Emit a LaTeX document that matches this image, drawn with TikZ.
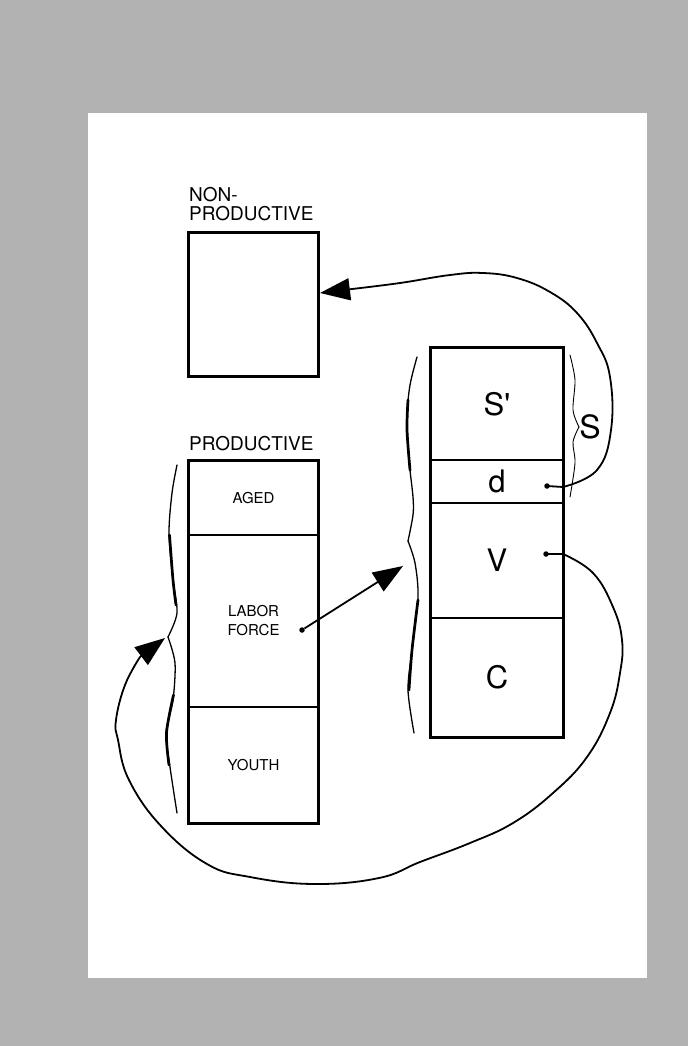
\documentclass[tikz,border=0pt]{standalone}
\usepackage{fontspec}
\setmainfont{TeX Gyre Heros}
\usetikzlibrary{arrows.meta}
\definecolor{bggray}{gray}{0.70}
\begin{document}
\begin{tikzpicture}[x=1pt,y=-1pt,
  frame/.style={draw, line width=3pt},
  cell/.style={draw, line width=1.8pt, inner sep=0pt, minimum width=129, align=center, font=\fontsize{15}{19}\selectfont},
  bigcell/.style={draw, line width=1.8pt, inner sep=0pt, minimum width=132, font=\fontsize{31}{31}\selectfont},
  title/.style={anchor=base west, inner sep=0pt, font=\fontsize{19}{19}\selectfont},
  conn/.style={line width=1.8pt, -{Triangle[length=30pt,width=22pt]}},
  dotmark/.style={circle, fill, inner sep=0pt, minimum size=5.5pt},
  brace/.style={line width=1.3pt, line cap=round, line join=round},
  thinbrace/.style={line width=0.9pt, line cap=round, line join=round},
  heavy/.style={line width=2.7pt, line cap=round}
]
\useasboundingbox (0,0) rectangle (688,1046);
\fill[bggray] (0,0) rectangle (688,1046);
\fill[white] (88,113) rectangle (647,978);

% non-productive
\node[title] (nonlbl) at (189,201) {NON-};
\node[title] (nplbl) at (189,220) {PRODUCTIVE};
\node[frame, inner sep=0pt, minimum width=130, minimum height=144] (np) at (253.5,304) {};

% productive
\node[title] (plbl) at (189,450) {PRODUCTIVE};
\node[cell, minimum height=74] (aged) at (253.5,498) {AGED};
\node[cell, minimum height=172] (labor) at (253.5,621) {LABOR\\FORCE};
\node[cell, minimum height=116] (youth) at (253.5,765) {YOUTH};
\draw[frame] (aged.north west) rectangle (youth.south east);

% value column
\node[bigcell, minimum height=112] (sp) at (497,404) {S\textquotesingle};
\node[bigcell, minimum height=43] (dd) at (497,481.5) {d};
\node[bigcell, minimum height=115] (vv) at (497,560.5) {V};
\node[bigcell, minimum height=119] (cc) at (497,677.5) {C};
\draw[frame] (sp.north west) rectangle (cc.south east);
\node[inner sep=0pt, font=\fontsize{32}{32}\selectfont] (slbl) at (590,427) {S};

% dots and targets
\node[dotmark] (ddot) at (547,486) {};
\node[dotmark] (vdot) at (546,554) {};
\node[dotmark] (lfdot) at (302,630) {};
\coordinate (pbtip) at (165,638);
\coordinate (lbtip) at (403,566);

% braces
\draw[brace] plot[smooth] coordinates {(177,465) (172,493) (169,533) (173,580) (177,613) (168,637)};
\draw[brace] plot[smooth] coordinates {(168,637) (175,663) (173,700) (166,733) (170,767) (177,813)};
\draw[heavy] plot[smooth] coordinates {(169.5,535) (173,580) (176,605)};
\draw[heavy] plot[smooth] coordinates {(173.5,695) (166.5,733) (169,765)};

\draw[brace] plot[smooth] coordinates {(417,357) (410,385) (407,417) (409,460) (413,497) (413,515) (408,541)};
\draw[brace] plot[smooth] coordinates {(408,541) (415,563) (418,597) (412,650) (408,690) (414,733)};
\draw[heavy] plot[smooth] coordinates {(408,400) (407,430) (410,470)};
\draw[heavy] plot[smooth] coordinates {(418,600) (412,650) (409,690)};

\draw[thinbrace] plot[smooth] coordinates {(570,355) (575,380) (573,410) (579,427)};
\draw[thinbrace] plot[smooth] coordinates {(579,427) (573,442) (575,463) (570,497)};

% connectors
\draw[conn] (ddot) -- plot[smooth, tension=0.7] coordinates {(563,487) (597,470) (611,430) (610,377) (597,343) (577,313) (550,292) (517,278) (483,273) (450,275) (400,283) (352,289)} -- ([yshift=11pt]np.east);
\draw[conn] (vdot) -- plot[smooth, tension=0.7] coordinates {(563,554) (593,573) (613,607) (622,640) (620,673) (610,713) (587,757) (553,793) (513,823) (470,843) (420,862) (379,878) (314,884) (250,877) (207,864) (161,826) (129,780) (118,740) (116,720) (125,685) (140,657)} -- (pbtip);
\draw[conn] (lfdot) -- (lbtip);
\end{tikzpicture}
\end{document}
